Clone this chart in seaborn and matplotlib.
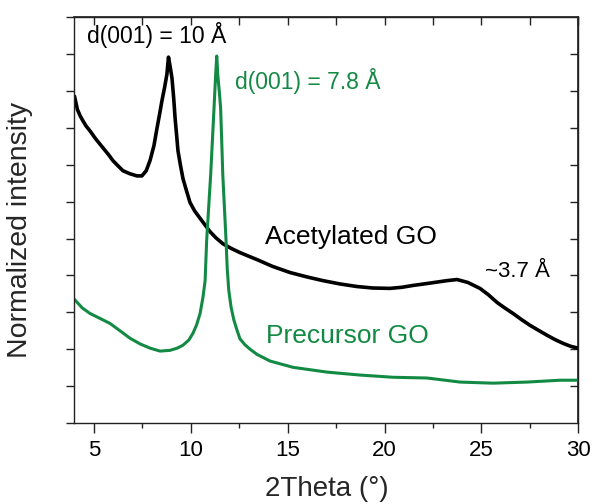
import numpy as np
import pandas as pd
import matplotlib
matplotlib.use("Agg")
import matplotlib.pyplot as plt
import seaborn as sns

# Acetylated GO (black)
acet_x = [4.00, 4.15, 4.30, 4.44, 4.60, 4.80, 5.10, 5.47, 5.75, 5.99, 6.25, 6.50, 6.85,
          7.22, 7.48, 7.70, 7.90, 8.10, 8.26, 8.40, 8.51, 8.65, 8.77, 8.85, 8.94, 9.03,
          9.12, 9.19, 9.27, 9.34, 9.47, 9.60, 9.80, 9.96, 10.20, 10.48, 10.75, 10.99,
          11.30, 11.66, 12.10, 12.54, 13.00, 13.42, 14.20, 15.12, 16.00, 16.82, 17.70,
          18.58, 19.40, 20.28, 20.90, 21.47, 22.30, 23.22, 23.74, 24.30, 24.92, 25.35,
          25.80, 26.20, 26.63, 27.05, 27.50, 27.95, 28.38, 28.80, 29.21, 29.60, 29.98]
acet_y = [0.886, 0.850, 0.832, 0.819, 0.805, 0.792, 0.770, 0.746, 0.728, 0.711, 0.697,
          0.684, 0.676, 0.670, 0.670, 0.684, 0.712, 0.752, 0.800, 0.840, 0.873, 0.910,
          0.946, 0.992, 0.965, 0.935, 0.880, 0.827, 0.780, 0.738, 0.698, 0.662, 0.626,
          0.598, 0.575, 0.555, 0.536, 0.519, 0.502, 0.486, 0.473, 0.462, 0.452, 0.443,
          0.425, 0.408, 0.396, 0.386, 0.377, 0.370, 0.366, 0.365, 0.368, 0.373, 0.379,
          0.386, 0.389, 0.381, 0.365, 0.348, 0.327, 0.312, 0.297, 0.281, 0.265, 0.251,
          0.238, 0.226, 0.216, 0.208, 0.203]

# Precursor GO (green)
prec_x = [4.00, 4.40, 4.80, 5.30, 5.83, 6.35, 6.86, 7.40, 7.90, 8.41, 8.93, 9.30, 9.60,
          9.90, 10.11, 10.30, 10.48, 10.63, 10.74, 10.82, 10.93, 11.03, 11.12, 11.20,
          11.28, 11.34, 11.40, 11.47, 11.54, 11.60, 11.65, 11.74, 11.82, 11.88, 11.96,
          12.08, 12.22, 12.39, 12.54, 12.80, 13.06, 13.42, 14.09, 15.27, 17.03, 18.73,
          20.44, 22.19, 23.89, 25.59, 27.35, 29.05, 29.98]
prec_y = [0.335, 0.312, 0.297, 0.284, 0.270, 0.250, 0.230, 0.214, 0.203, 0.195, 0.197,
          0.203, 0.211, 0.225, 0.243, 0.266, 0.297, 0.341, 0.386, 0.495, 0.590, 0.676,
          0.770, 0.854, 0.940, 0.995, 0.940, 0.900, 0.854, 0.760, 0.676, 0.580, 0.495,
          0.420, 0.360, 0.314, 0.280, 0.251, 0.228, 0.212, 0.200, 0.186, 0.168, 0.151,
          0.138, 0.130, 0.124, 0.122, 0.111, 0.108, 0.111, 0.116, 0.116]

x_ticks = [5, 10, 15, 20, 25, 30]

GREEN = "#138a44"

sns.set_theme(style="ticks")
plt.rcParams["font.family"] = ["Liberation Sans", "DejaVu Sans"]

fig = plt.figure(figsize=(5.94, 5.04), dpi=100)
ax = fig.add_axes([0.1254, 0.1607, 0.9737 - 0.1254, 0.9657 - 0.1607])

df_a = pd.DataFrame({"x": acet_x, "y": acet_y})
df_p = pd.DataFrame({"x": prec_x, "y": prec_y})
sns.lineplot(data=df_a, x="x", y="y", ax=ax, color="black", lw=2.6, estimator=None, sort=False)
sns.lineplot(data=df_p, x="x", y="y", ax=ax, color=GREEN, lw=2.2, estimator=None, sort=False)

ax.set_xlim(4, 30)
ax.set_ylim(0, 1.097)
ax.set_xticks(x_ticks)
ax.set_xticks(np.arange(7.5, 30, 5), minor=True)
ax.set_yticks(np.arange(0, 1.11, 0.1))
ax.set_yticklabels([])
for s in ax.spines.values():
    s.set_linewidth(1.0)
    s.set_color("#222222")
ax.tick_params(axis="x", which="major", direction="out", length=7, width=1.0, labelsize=16, pad=5, colors="#222222", labelcolor="black")
ax.tick_params(axis="x", which="minor", direction="out", length=3.5, width=1.0, colors="#222222")
ax.tick_params(axis="y", which="major", direction="out", length=5.5, width=1.0, colors="#222222")

top = ax.secondary_xaxis("top")
top.set_xticks(np.arange(5, 30.1, 2.5))
top.set_xticklabels([])
top.tick_params(direction="in", length=6, width=1.0, colors="#222222")
right = ax.secondary_yaxis("right")
right.set_yticks(np.arange(0.1, 1.05, 0.1))
right.set_yticklabels([])
right.tick_params(direction="in", length=6, width=1.0, colors="#222222")

ax.set_xlabel("2Theta (°)", fontsize=20, labelpad=11)
ax.set_ylabel("Normalized intensity", fontsize=20.5)
ax.yaxis.set_label_coords(-0.082, 0.475)

ax.text(4.65, 1.03, "d(001) = 10 Å", fontsize=16.5, color="black", va="baseline", ha="left")
ax.text(12.28, 0.905, "d(001) = 7.8 Å", fontsize=16.5, color=GREEN, va="baseline", ha="left")
ax.text(13.83, 0.484, "Acetylated GO", fontsize=19, color="black", va="baseline", ha="left")
ax.text(13.88, 0.216, "Precursor GO", fontsize=19, color=GREEN, va="baseline", ha="left")
ax.text(25.18, 0.395, "~3.7 Å", fontsize=16, color="black", va="baseline", ha="left")

fig.savefig("out.png", dpi=100)
